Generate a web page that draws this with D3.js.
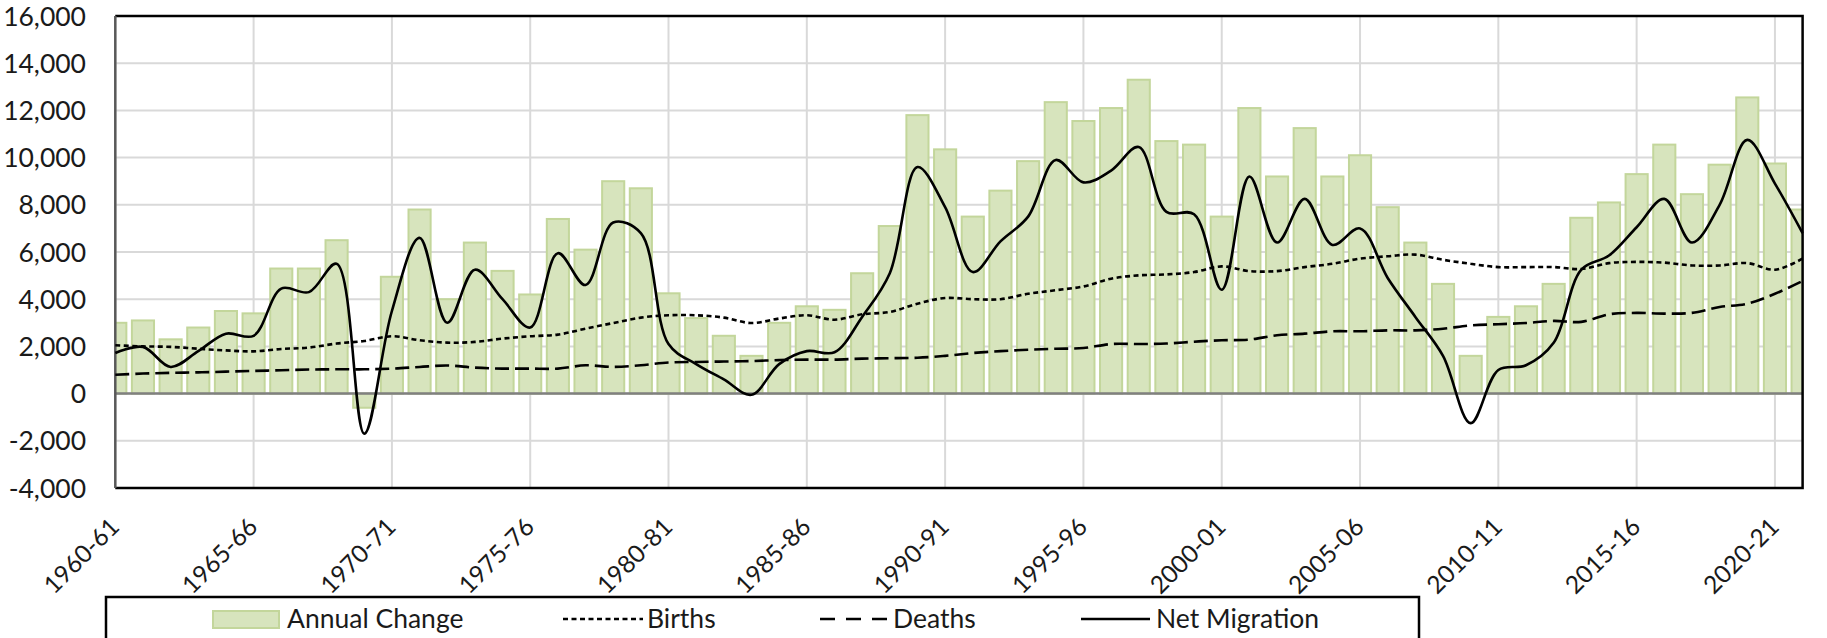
<!DOCTYPE html>
<html>
<head>
<meta charset="utf-8">
<script src="https://cdn.jsdelivr.net/npm/d3@7"></script>
<style>
  html, body { margin: 0; padding: 0; background: #ffffff; }
  svg { display: block; }
  text { font-family: Lato, "Open Sans", sans-serif; fill: #1a1a1a; }
</style>
</head>
<body>
<svg id="chart" width="1827" height="638"></svg>
<script>
const categories = ["1960-61","1961-62","1962-63","1963-64","1964-65","1965-66","1966-67","1967-68","1968-69","1969-70",
  "1970-71","1971-72","1972-73","1973-74","1974-75","1975-76","1976-77","1977-78","1978-79","1979-80",
  "1980-81","1981-82","1982-83","1983-84","1984-85","1985-86","1986-87","1987-88","1988-89","1989-90",
  "1990-91","1991-92","1992-93","1993-94","1994-95","1995-96","1996-97","1997-98","1998-99","1999-00",
  "2000-01","2001-02","2002-03","2003-04","2004-05","2005-06","2006-07","2007-08","2008-09","2009-10",
  "2010-11","2011-12","2012-13","2013-14","2014-15","2015-16","2016-17","2017-18","2018-19","2019-20",
  "2020-21","2021-22"];

const annualChange = [3000,3100,2300,2800,3500,3400,5300,5300,6500,-600,
  4950,7800,4000,6400,5200,4200,7400,6100,9000,8700,
  4250,3200,2450,1600,3000,3700,3550,5100,7100,11800,
  10350,7500,8600,9850,12350,11550,12100,13300,10700,10550,
  7500,12100,9200,11250,9200,10100,7900,6400,4650,1600,
  3250,3700,4650,7450,8100,9300,10550,8450,9700,12550,
  9750,7800];

const births = [2050,2000,1980,1900,1830,1790,1890,1950,2120,2230,
  2430,2260,2160,2190,2330,2430,2500,2750,2990,3220,
  3320,3320,3220,2990,3180,3320,3130,3360,3460,3810,
  4050,4000,4000,4230,4380,4540,4870,5010,5050,5150,
  5390,5190,5190,5360,5500,5720,5820,5890,5670,5500,
  5360,5360,5360,5280,5530,5580,5550,5430,5430,5530,
  5250,5720];

const deaths = [800,850,880,900,930,960,990,1020,1030,1030,
  1060,1130,1190,1100,1060,1060,1060,1200,1130,1200,
  1320,1340,1360,1380,1420,1440,1440,1480,1500,1520,
  1600,1720,1800,1860,1900,1930,2100,2100,2120,2200,
  2260,2290,2470,2540,2640,2640,2680,2680,2750,2890,
  2940,2990,3080,3040,3360,3420,3390,3420,3670,3810,
  4230,4770];

const netMigration = [1720,1980,1130,1800,2540,2450,4450,4300,5500,-1700,
  3500,6600,3000,5250,4000,2800,5950,4600,7250,6800,
  2100,1250,600,-50,1250,1800,1750,3250,5100,9600,
  7900,5150,6450,7500,9900,8950,9450,10450,7700,7600,
  4400,9200,6400,8250,6300,7000,4900,3250,1600,-1250,
  1000,1200,2150,5250,5850,7050,8250,6400,8000,10750,
  8900,6800];

const yTicks = [-4000,-2000,0,2000,4000,6000,8000,10000,12000,14000,16000];
const yTickLabels = ["-4,000","-2,000","0","2,000","4,000","6,000","8,000","10,000","12,000","14,000","16,000"];
const xTickLabels = ["1960-61","1965-66","1970-71","1975-76","1980-81","1985-86","1990-91","1995-96",
  "2000-01","2005-06","2010-11","2015-16","2020-21"];

const legendLabels = ["Annual Change","Births","Deaths","Net Migration"];

const svg = d3.select("#chart");
const pL = 115.3, pR = 1802.6, pT = 16, pB = 488;
const fs = 26.5;
const fsX = 24.5;

const x = d3.scalePoint().domain(categories).range([pL, pR]);
const y = d3.scaleLinear().domain([-4000, 16000]).range([pB, pT]);
const step = x.step();
const barW = step * 0.80;

const gridColor = "#d9d9d9";
const barFill = "#d7e4bd";
const barStroke = "#c3d69b";

svg.append("defs").append("clipPath").attr("id", "plotClip")
  .append("rect").attr("x", pL).attr("y", pT).attr("width", pR - pL).attr("height", pB - pT);

// horizontal gridlines
svg.append("g").selectAll("line").data(yTicks).join("line")
  .attr("x1", pL).attr("x2", pR)
  .attr("y1", d => y(d)).attr("y2", d => y(d))
  .attr("stroke", gridColor).attr("stroke-width", 2);

// vertical gridlines at labelled categories
svg.append("g").selectAll("line").data(xTickLabels).join("line")
  .attr("x1", d => x(d)).attr("x2", d => x(d))
  .attr("y1", pT).attr("y2", pB)
  .attr("stroke", gridColor).attr("stroke-width", 2);

// bars
svg.append("g").attr("clip-path", "url(#plotClip)")
  .selectAll("rect").data(categories).join("rect")
  .attr("x", (d) => x(d) - barW / 2)
  .attr("width", barW)
  .attr("y", (d, i) => Math.min(y(annualChange[i]), y(0)))
  .attr("height", (d, i) => Math.abs(y(annualChange[i]) - y(0)))
  .attr("fill", barFill).attr("stroke", barStroke).attr("stroke-width", 2);

// zero axis line
svg.append("line").attr("x1", pL).attr("x2", pR).attr("y1", y(0)).attr("y2", y(0))
  .attr("stroke", "#808080").attr("stroke-width", 2.5);

// plot border
svg.append("path")
  .attr("d", `M${pL},${pB}H${pR}V${pT}H${pL}`)
  .attr("fill", "none").attr("stroke", "#000").attr("stroke-width", 2.5);
svg.append("line").attr("x1", pL).attr("x2", pL).attr("y1", pT).attr("y2", pB)
  .attr("stroke", "#595959").attr("stroke-width", 2.5);

// lines
const line = d3.line().x((d, i) => x(categories[i])).y(d => y(d)).curve(d3.curveCatmullRom.alpha(0.5));
const seriesDefs = [
  { data: births, dash: "5,3.5", width: 2.6 },
  { data: deaths, dash: "14,6", width: 2.6 },
  { data: netMigration, dash: null, width: 2.6 }
];
seriesDefs.forEach(s => {
  svg.append("path").datum(s.data).attr("d", line)
    .attr("fill", "none").attr("stroke", "#000").attr("stroke-width", s.width)
    .attr("stroke-dasharray", s.dash);
});

// y axis labels
svg.append("g").selectAll("text").data(yTicks).join("text")
  .attr("x", 86).attr("y", d => y(d)).attr("dy", "0.36em")
  .attr("text-anchor", "end").attr("font-size", fs)
  .text((d, i) => yTickLabels[i]);

// x axis labels
svg.append("g").selectAll("text").data(xTickLabels).join("text")
  .attr("transform", d => `translate(${x(d) + 5.5},${528.5}) rotate(-45)`)
  .attr("text-anchor", "end").attr("font-size", fsX)
  .text(d => d);

// legend
const lg = svg.append("g");
lg.append("rect").attr("x", 106).attr("y", 597).attr("width", 1313).attr("height", 70)
  .attr("fill", "#fff").attr("stroke", "#000").attr("stroke-width", 2.5);
lg.append("rect").attr("x", 213).attr("y", 611).attr("width", 66).attr("height", 17)
  .attr("fill", barFill).attr("stroke", barStroke).attr("stroke-width", 2);
const legLines = [
  { x1: 563, x2: 643, dash: "5,3.5" },
  { x1: 820, x2: 887, dash: "15,11" },
  { x1: 1081, x2: 1150, dash: null }
];
legLines.forEach(l => {
  lg.append("line").attr("x1", l.x1).attr("x2", l.x2).attr("y1", 619).attr("y2", 619)
    .attr("stroke", "#000").attr("stroke-width", 2.6).attr("stroke-dasharray", l.dash);
});
const legTextX = [287, 647, 893, 1156];
legendLabels.forEach((t, i) => {
  lg.append("text").attr("x", legTextX[i]).attr("y", 628).attr("font-size", fs).text(t);
});
</script>
</body>
</html>
